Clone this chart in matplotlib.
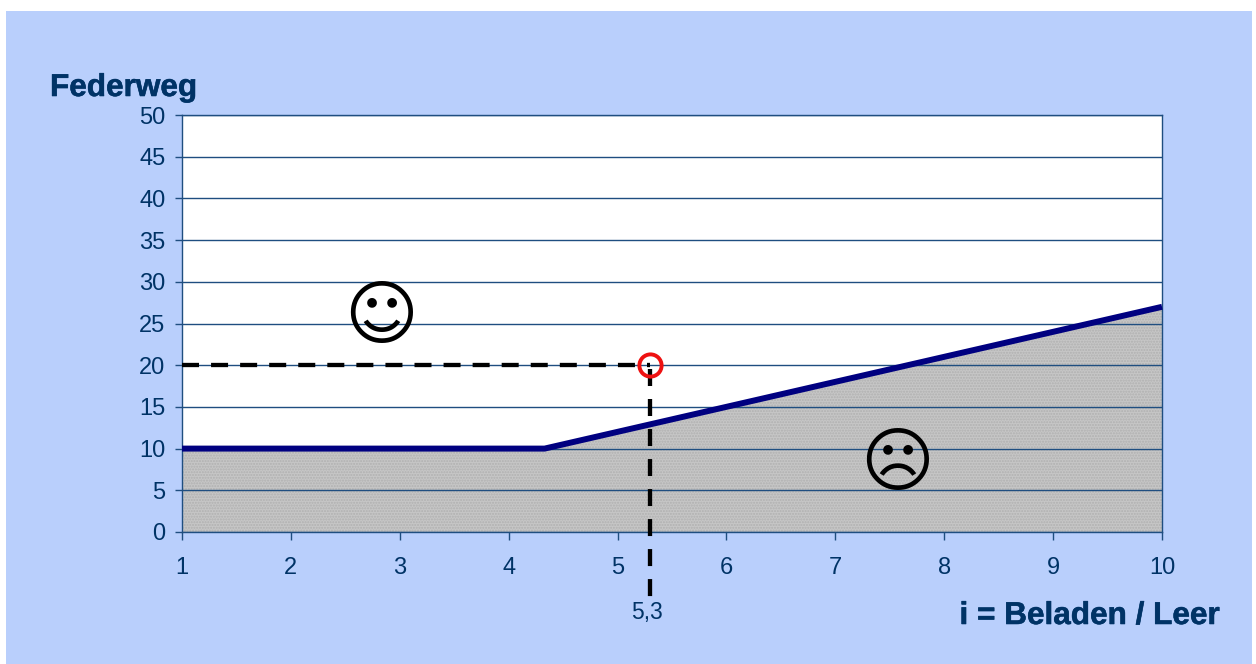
#! /usr/bin/env python

import matplotlib
matplotlib.use("Agg")
import matplotlib.pyplot as plt
from matplotlib.patches import Rectangle
import matplotlib.patheffects as pe

# limit curve
i_values = [1, 4.33, 10]
federweg = [10, 10, 27]

# marked operating point
point_i = 5.3
point_fw = 20
point_label = "5,3"

x_ticks = [1, 2, 3, 4, 5, 6, 7, 8, 9, 10]
y_ticks = [0, 5, 10, 15, 20, 25, 30, 35, 40, 45, 50]

text_col = "#003366"
grid_col = "#1f4e80"

plt.rcParams["font.family"] = ["Liberation Sans", "DejaVu Sans"]

W, H = 1256, 664
fig = plt.figure(figsize=[W / 100, H / 100], dpi=100, facecolor="white")
fig.patches.append(Rectangle((6 / W, 0), 1246 / W, 653 / H, transform=fig.transFigure,
                             facecolor="#b9cffc", edgecolor="none", zorder=-10))

ax = fig.add_axes([182 / W, 1 - 532 / H, 980 / W, 417 / H])
ax.set_facecolor("white")
ax.set_xlim(1, 10)
ax.set_ylim(0, 50)
ax.set_xticks(x_ticks)
ax.set_yticks(y_ticks)
ax.tick_params(axis="both", labelsize=17, colors=text_col, labelcolor=text_col,
               color=grid_col, width=1, length=5)
ax.tick_params(axis="x", pad=12, length=6)
ax.tick_params(axis="y", pad=7)
for s in ax.spines.values():
    s.set_color(grid_col)
    s.set_linewidth(1)

ax.grid(True, axis="y", color=grid_col, linewidth=1, zorder=2)
ax.set_axisbelow(False)

# grey area under the limit curve
ax.fill_between(i_values, federweg, 0, facecolor="#c6c6c6", edgecolor="#b0b0b0",
                hatch="......", linewidth=0, zorder=1)
ax.plot(i_values, federweg, color="#000080", linewidth=4.3, solid_capstyle="butt",
        clip_on=False, zorder=4)

# dashed guides, the vertical one runs down past the axis
ax.plot([1, point_i], [point_fw, point_fw], color="black", linewidth=3.1,
        linestyle=(0, (3.95, 2.8)), dash_capstyle="butt", zorder=5)
ax.plot([point_i, point_i], [19.5, -8.15], color="black", linewidth=3.1,
        linestyle=(0, (3.95, 3.02)), dash_capstyle="butt", clip_on=False, zorder=5)
ax.plot([point_i], [point_fw], "o", markersize=16, markerfacecolor="none",
        markeredgecolor="#ee1111", markeredgewidth=2.8, zorder=6)

ax.text(2.83, 25.6, "\u263a", fontsize=51, family="DejaVu Sans", ha="center",
        va="center", color="black", zorder=7)
ax.text(7.57, 7.95, "\u2639", fontsize=51, family="DejaVu Sans", ha="center",
        va="center", color="black", zorder=7)

fig.text(647 / W, 1 - 613 / H, point_label, fontsize=16.5, color=text_col,
         ha="center", va="center")
bold = [pe.withStroke(linewidth=0.4, foreground=text_col)]
fig.text(50 / W, 1 - 88 / H, "Federweg", fontsize=22.7, fontweight="bold",
         color=text_col, ha="left", va="center", path_effects=bold)
fig.text(1220 / W, 1 - 616 / H, "i = Beladen / Leer", fontsize=22.7, fontweight="bold",
         color=text_col, ha="right", va="center", path_effects=bold)

plt.savefig("out.png", dpi=100)
